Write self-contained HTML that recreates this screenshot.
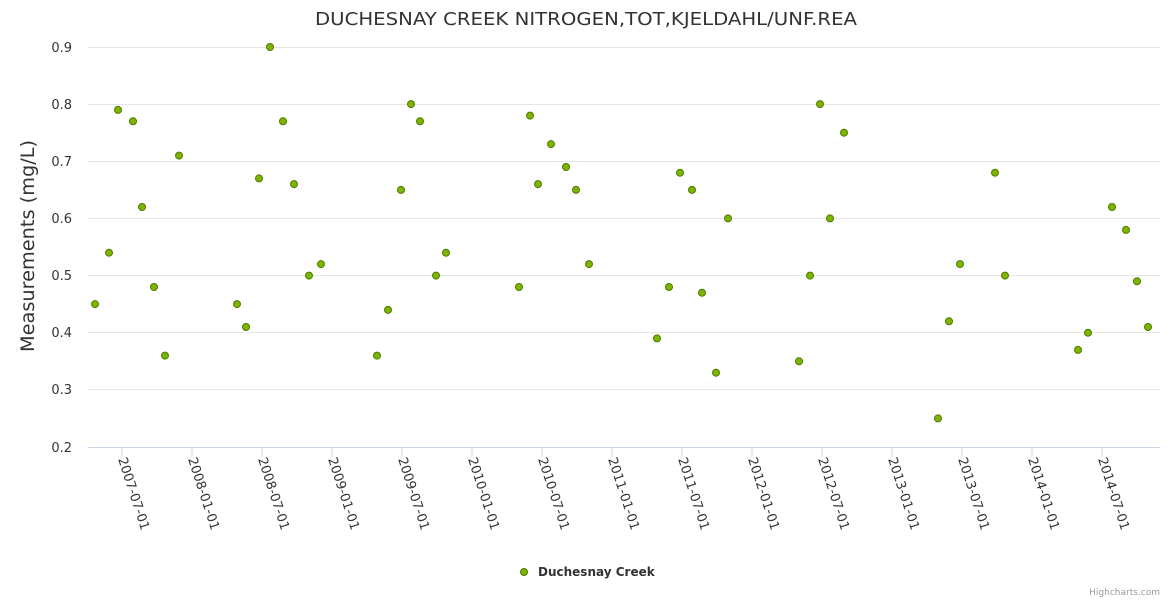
<!DOCTYPE html>
<html><head><style>body{margin:0;background:#fff}</style></head><body>
<svg width="1170" height="600" xmlns="http://www.w3.org/2000/svg" font-family="DejaVu Sans, sans-serif">
<rect width="1170" height="600" fill="#fff"/>
<text x="586" y="25" text-anchor="middle" font-size="18" textLength="542" lengthAdjust="spacingAndGlyphs" fill="#333">DUCHESNAY CREEK NITROGEN,TOT,KJELDAHL/UNF.REA</text>
<g stroke="#e6e6e6" stroke-width="1">
<line x1="88" x2="1160" y1="47.5" y2="47.5"/><line x1="88" x2="1160" y1="104.5" y2="104.5"/><line x1="88" x2="1160" y1="161.5" y2="161.5"/><line x1="88" x2="1160" y1="218.5" y2="218.5"/><line x1="88" x2="1160" y1="275.5" y2="275.5"/><line x1="88" x2="1160" y1="332.5" y2="332.5"/><line x1="88" x2="1160" y1="389.5" y2="389.5"/>
</g>
<line x1="88" x2="1160" y1="447.5" y2="447.5" stroke="#ccd6eb"/>
<g font-size="13" fill="#333" text-anchor="end">
<text x="72" y="52">0.9</text><text x="72" y="109">0.8</text><text x="72" y="166">0.7</text><text x="72" y="223">0.6</text><text x="72" y="280">0.5</text><text x="72" y="337">0.4</text><text x="72" y="394">0.3</text><text x="72" y="452">0.2</text>
</g>
<text transform="translate(34,246) rotate(-90)" text-anchor="middle" font-size="19" textLength="212" lengthAdjust="spacingAndGlyphs" fill="#333">Measurements (mg/L)</text>
<g stroke="#ccd6eb">
<line x1="122" x2="122" y1="447" y2="457"/><line x1="192" x2="192" y1="447" y2="457"/><line x1="262" x2="262" y1="447" y2="457"/><line x1="332" x2="332" y1="447" y2="457"/><line x1="402" x2="402" y1="447" y2="457"/><line x1="472" x2="472" y1="447" y2="457"/><line x1="542" x2="542" y1="447" y2="457"/><line x1="612" x2="612" y1="447" y2="457"/><line x1="682" x2="682" y1="447" y2="457"/><line x1="752" x2="752" y1="447" y2="457"/><line x1="822" x2="822" y1="447" y2="457"/><line x1="892" x2="892" y1="447" y2="457"/><line x1="962" x2="962" y1="447" y2="457"/><line x1="1032" x2="1032" y1="447" y2="457"/><line x1="1102" x2="1102" y1="447" y2="457"/>
</g>
<g font-size="13" fill="#333">
<text transform="translate(118,459) rotate(72)">2007-07-01</text>
<text transform="translate(188,459) rotate(72)">2008-01-01</text>
<text transform="translate(258,459) rotate(72)">2008-07-01</text>
<text transform="translate(328,459) rotate(72)">2009-01-01</text>
<text transform="translate(398,459) rotate(72)">2009-07-01</text>
<text transform="translate(468,459) rotate(72)">2010-01-01</text>
<text transform="translate(538,459) rotate(72)">2010-07-01</text>
<text transform="translate(608,459) rotate(72)">2011-01-01</text>
<text transform="translate(678,459) rotate(72)">2011-07-01</text>
<text transform="translate(748,459) rotate(72)">2012-01-01</text>
<text transform="translate(818,459) rotate(72)">2012-07-01</text>
<text transform="translate(888,459) rotate(72)">2013-01-01</text>
<text transform="translate(958,459) rotate(72)">2013-07-01</text>
<text transform="translate(1028,459) rotate(72)">2014-01-01</text>
<text transform="translate(1098,459) rotate(72)">2014-07-01</text>
</g>
<g id="pts" fill="#7cb500" stroke="#4f7a00" stroke-width="1"></g>
<circle cx="524" cy="572" r="3.5" fill="#7cb500" stroke="#4f7a00"/>
<text x="538" y="576" font-size="12" font-weight="bold" fill="#333">Duchesnay Creek</text>
<text x="1160" y="595" text-anchor="end" font-size="9" fill="#999">Highcharts.com</text>
</svg>
<script>
var d=[[95,.45],[109,.54],[118,.79],[133,.77],[142,.62],[154,.48],[165,.36],[179,.71],[237,.45],[246,.41],[259,.67],[270,.90],[283,.77],[294,.66],[309,.50],[321,.52],[377,.36],[388,.44],[401,.65],[411,.80],[420,.77],[436,.50],[446,.54],[519,.48],[530,.78],[538,.66],[551,.73],[566,.69],[576,.65],[589,.52],[657,.39],[669,.48],[680,.68],[692,.65],[702,.47],[716,.33],[728,.60],[799,.35],[810,.50],[820,.80],[830,.60],[844,.75],[938,.25],[949,.42],[960,.52],[995,.68],[1005,.50],[1078,.37],[1088,.40],[1112,.62],[1126,.58],[1137,.49],[1148,.41]];
var g=document.getElementById('pts'),s='';
d.forEach(function(p){var y=447-(p[1]-0.2)*571.43;s+='<circle cx="'+p[0]+'" cy="'+y.toFixed(1)+'" r="3.5"/>';});
g.innerHTML=s;
</script>
</body></html>
